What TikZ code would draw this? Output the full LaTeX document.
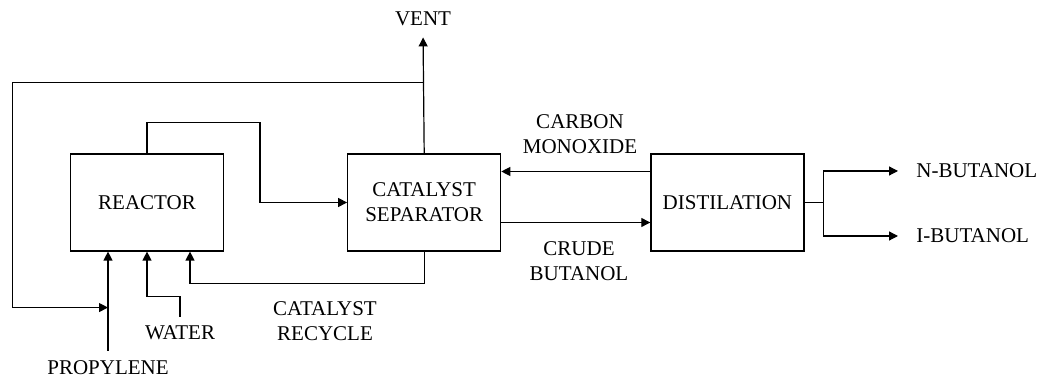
\documentclass[tikz,border=0pt]{standalone}
\usepackage{fontspec}
\setmainfont{Liberation Serif}
\usetikzlibrary{arrows.meta,positioning}

\begin{document}
\begin{tikzpicture}[
    x=0.5pt, y=-0.5pt,
    font=\fontsize{10.5}{12.5}\selectfont,
    unit/.style={rectangle, draw=black, line width=0.6pt, minimum width=76.5pt, minimum height=48.5pt, align=center},
    tag/.style={inner sep=2pt, align=center},
    pipe/.style={line width=0.6pt},
    flow/.style={pipe, -{Triangle[length=4.5pt, width=4.5pt]}}
]
    \useasboundingbox (0,0) rectangle (1044,378);

    \node[unit] (reactor) at (147,202.5) {REACTOR};
    \node[unit, right=61.5pt of reactor] (separator) {CATALYST\\SEPARATOR};
    \node[unit, right=74.5pt of separator] (distil) {DISTILATION};

    \node[tag] (vent) at (423,19) {VENT};
    \node[tag] (propylene) at (108,368) {PROPYLENE};
    \node[tag] (water) at (180,333) {WATER};
    \node[tag] (recycle) at (325,321.5) {CATALYST\\RECYCLE};
    \node[tag] (co) at (580,134) {CARBON\\MONOXIDE};
    \node[tag] (crude) at (579,261.5) {CRUDE\\BUTANOL};
    \node[tag, anchor=west] (nbut) at (912,171) {N-BUTANOL};
    \node[tag, anchor=west] (ibut) at (912,236) {I-BUTANOL};

    \coordinate (split) at ([yshift=35.5pt]separator.north);

    \draw[flow, shorten >=3.5pt] (separator.north) -- (vent.south);
    \draw[flow] (split) -- ++(-412,0) |- ([yshift=24.5pt]propylene.north);
    \draw[flow, shorten <=3pt] (propylene.north) -- (propylene.north |- reactor.south);
    \draw[flow, shorten <=2.5pt] (water.north) -- ++(0,-25) -| (reactor.south);
    \draw[flow] (separator.south) -- ++(0,32) -| ([xshift=21.5pt]reactor.south);
    \draw[flow] (reactor.north) -- ++(0,-31) -- ++(113,0) |- (separator.west);

    \draw[flow] ([yshift=15.5pt]distil.west) -- ([yshift=15.5pt]distil.west -| separator.east);
    \draw[flow] ([yshift=-10pt]separator.east) -- ([yshift=-10pt]separator.east -| distil.west);

    \draw[pipe] (distil.east) -- ++(19,0) coordinate (fork);
    \draw[flow, shorten >=7pt] (fork) |- (nbut.west);
    \draw[flow, shorten >=7pt] (fork) |- (ibut.west);
\end{tikzpicture}
\end{document}
